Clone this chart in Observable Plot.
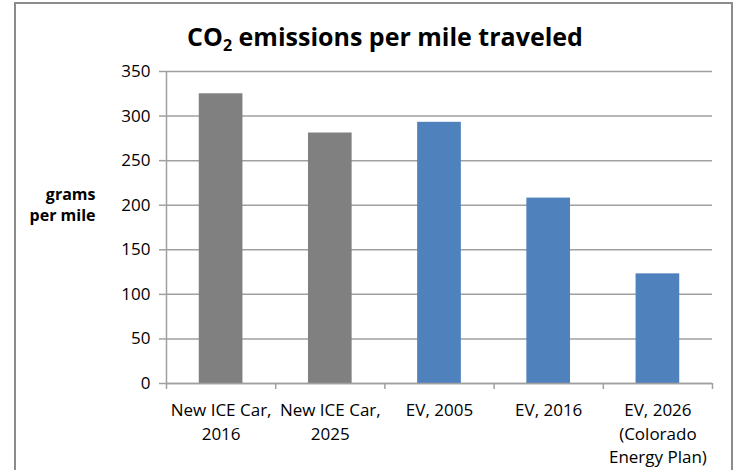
<!DOCTYPE html>
<html><head><meta charset="utf-8">
<script src="https://cdn.jsdelivr.net/npm/d3@7"></script>
<script src="https://cdn.jsdelivr.net/npm/@observablehq/plot@0.6"></script>
<style>
body{margin:0;background:#fff;}
#wrap{position:relative;width:734px;height:470px;overflow:hidden;font-family:"Open Sans",sans-serif;background:#fff;}
#frame{position:absolute;left:14px;top:2px;width:719px;height:490px;border:2px solid #8c8c8c;box-sizing:border-box;}
#title{position:absolute;left:0;width:770px;top:21px;text-align:center;font-weight:bold;font-size:25px;line-height:30px;color:#000;}
#title sub{font-size:16px;vertical-align:-5px;line-height:0;}
#chart{position:absolute;left:0;top:0;}
</style>
</head><body>
<div id="wrap">
  <div id="frame"></div>
  <div id="chart"></div>
  <div id="title">CO<sub>2</sub> emissions per mile traveled</div>
</div>
<script>
const categories = ["New ICE Car,\n2016", "New ICE Car,\n2025", "EV, 2005", "EV, 2016", "EV, 2026\n(Colorado\nEnergy Plan)"];
const vehicleTypes = ["ICE", "ICE", "EV", "EV", "EV"];
const emissions = [325, 281, 293, 208, 123];
const yTicks = [0, 50, 100, 150, 200, 250, 300, 350];
const yLabel = "grams\nper mile";

const data = categories.map((c, i) => ({category: c, type: vehicleTypes[i], value: emissions[i], index: i}));
const n = categories.length;
const grid = "#a0a0a0";

const chart = Plot.plot({
  width: 734,
  height: 470,
  marginLeft: 166,
  marginRight: 22,
  marginTop: 71,
  marginBottom: 87,
  style: {fontFamily: "'Open Sans', sans-serif", fontSize: "17px", color: "#000", background: "transparent"},
  x: {domain: [0, n], label: null},
  y: {domain: [0, 350], label: null},
  color: {domain: ["ICE", "EV"], range: ["#808080", "#4f81bd"]},
  marks: [
    Plot.gridY(yTicks, {stroke: grid, strokeOpacity: 1, strokeWidth: 1.5}),
    Plot.rectY(data, {x1: d => d.index + 0.3, x2: d => d.index + 0.7, y1: 0, y2: "value", fill: "type"}),
    Plot.ruleX([0], {stroke: grid, strokeWidth: 1.5}),
    Plot.ruleY([0], {stroke: grid, strokeWidth: 1.5}),
    Plot.axisY(yTicks, {tickSize: 7, tickPadding: 9, stroke: grid, strokeWidth: 1.5, label: null, fontSize: 17}),
    Plot.axisX(d3.range(n + 1), {tickSize: 6, tickFormat: () => "", stroke: grid, strokeWidth: 1.5, label: null}),
    Plot.axisX(data.map(d => d.index + 0.5), {tickSize: 0, tickPadding: 16, tickFormat: v => categories[Math.floor(v)], lineHeight: 1.38, label: null, fontSize: 17}),
    Plot.text([yLabel], {frameAnchor: "left", dx: -71, dy: -24, textAnchor: "end", lineAnchor: "middle", lineHeight: 1.35, fontWeight: "bold", fontSize: 16})
  ]
});
document.getElementById("chart").appendChild(chart);
</script>
</body></html>
